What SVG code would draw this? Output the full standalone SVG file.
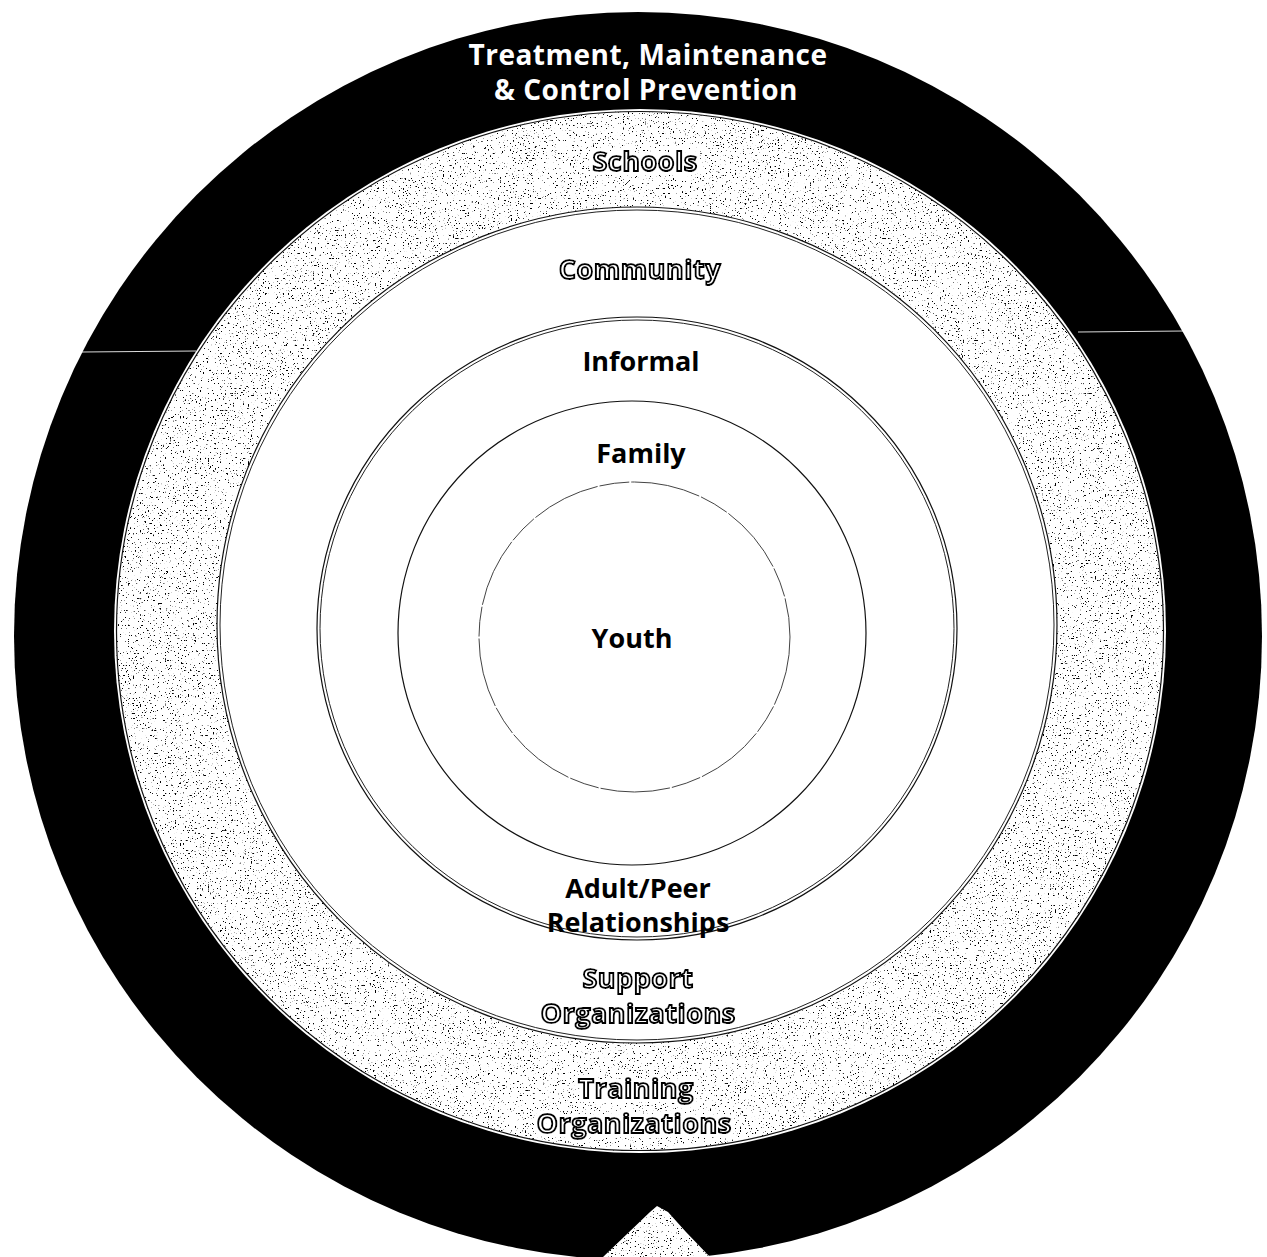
<svg xmlns="http://www.w3.org/2000/svg" width="1267" height="1257" viewBox="0 0 1267 1257">
  <defs>
    <filter id="speckle" filterUnits="userSpaceOnUse" x="0" y="0" width="1267" height="1257" color-interpolation-filters="sRGB">
      <feTurbulence type="fractalNoise" baseFrequency="0.6" numOctaves="3" seed="11" result="noise"/>
      <feColorMatrix in="noise" type="matrix" values="0 0 0 0 0  0 0 0 0 0  0 0 0 0 0  -14 0 0 0 4.6" result="dots"/>
      <feComposite in="dots" in2="SourceAlpha" operator="in" result="cd"/>
      <feMerge><feMergeNode in="SourceGraphic"/><feMergeNode in="cd"/></feMerge>
    </filter>
    <filter id="halo" x="-10%" y="-30%" width="120%" height="160%">
      <feMorphology in="SourceAlpha" operator="dilate" radius="2.5" result="d"/>
      <feFlood flood-color="#ffffff"/>
      <feComposite in2="d" operator="in" result="h"/>
      <feMerge><feMergeNode in="h"/><feMergeNode in="SourceGraphic"/></feMerge>
    </filter>
    <style>
      text { font-family: "Open Sans", Lato, "Liberation Sans", sans-serif; font-weight: 700; font-size: 27px; text-anchor: middle; }
      .title { fill: #ffffff; font-size: 28px; letter-spacing: 0.5px; }
      .dark { fill: #000000; }
      .outline { fill: #ffffff; stroke: #000000; stroke-width: 2px; filter: url(#halo); letter-spacing: 0.5px; }
      .line { fill: none; stroke: #111111; stroke-width: 1.2; }
      .thin { fill: none; stroke: #222222; stroke-width: 1; }
      .dash { fill: none; stroke: #444444; stroke-width: 1; stroke-dasharray: 70 2 30 2; }
      .seam { stroke: #ffffff; stroke-width: 1.2; opacity: 0.85; }
    </style>
  </defs>
  <rect x="0" y="0" width="1267" height="1257" fill="#ffffff"/>

  <g id="ring-treatment">
    <circle cx="638" cy="636" r="624" fill="#000000"/>
    <line class="seam" x1="82" y1="352" x2="196" y2="351"/>
    <line class="seam" x1="1078" y1="332" x2="1184" y2="331"/>
    <polygon points="603,1257 650,1212 657,1206 668,1212 686,1232 710,1257" fill="#ffffff" filter="url(#speckle)"/>
    <text class="title" x="648" y="65">Treatment, Maintenance</text>
    <text class="title" x="646" y="100">&amp; Control Prevention</text>
  </g>

  <g id="ring-schools">
    <ellipse cx="640" cy="631" rx="526" ry="522" fill="#ffffff"/>
    <ellipse cx="640" cy="631" rx="524" ry="520" fill="#ffffff" filter="url(#speckle)"/>
    <ellipse class="line" cx="640" cy="631" rx="523.5" ry="519.5"/>
  </g>

  <g id="ring-community">
    <ellipse cx="637" cy="625" rx="420" ry="418" fill="#ffffff"/>
    <ellipse class="line" cx="637" cy="625" rx="420" ry="418"/>
    <ellipse class="thin" cx="637" cy="625" rx="417" ry="415"/>
  </g>

  <g id="ring-informal">
    <ellipse class="line" cx="637" cy="628.5" rx="320" ry="311.5"/>
    <ellipse class="thin" cx="637" cy="628.5" rx="317" ry="308.5"/>
  </g>

  <g id="ring-family">
    <ellipse class="line" cx="632" cy="633" rx="234" ry="232" stroke-width="1.5"/>
  </g>

  <g id="node-youth">
    <ellipse class="dash" cx="634.5" cy="637" rx="155.5" ry="155"/>
    <text class="dark" x="632" y="648">Youth</text>
  </g>

  <g id="labels">
    <text class="outline" x="645" y="171">Schools</text>
    <text class="outline" x="640" y="279">Community</text>
    <text class="dark" x="641" y="371">Informal</text>
    <text class="dark" x="641" y="463">Family</text>
    <text class="dark" x="638" y="898">Adult/Peer</text>
    <text class="dark" x="638" y="932">Relationships</text>
    <text class="outline" x="638" y="988">Support</text>
    <text class="outline" x="638" y="1023">Organizations</text>
    <text class="outline" x="636" y="1098">Training</text>
    <text class="outline" x="634" y="1133">Organizations</text>
  </g>

  <g id="connectors"/>
</svg>
